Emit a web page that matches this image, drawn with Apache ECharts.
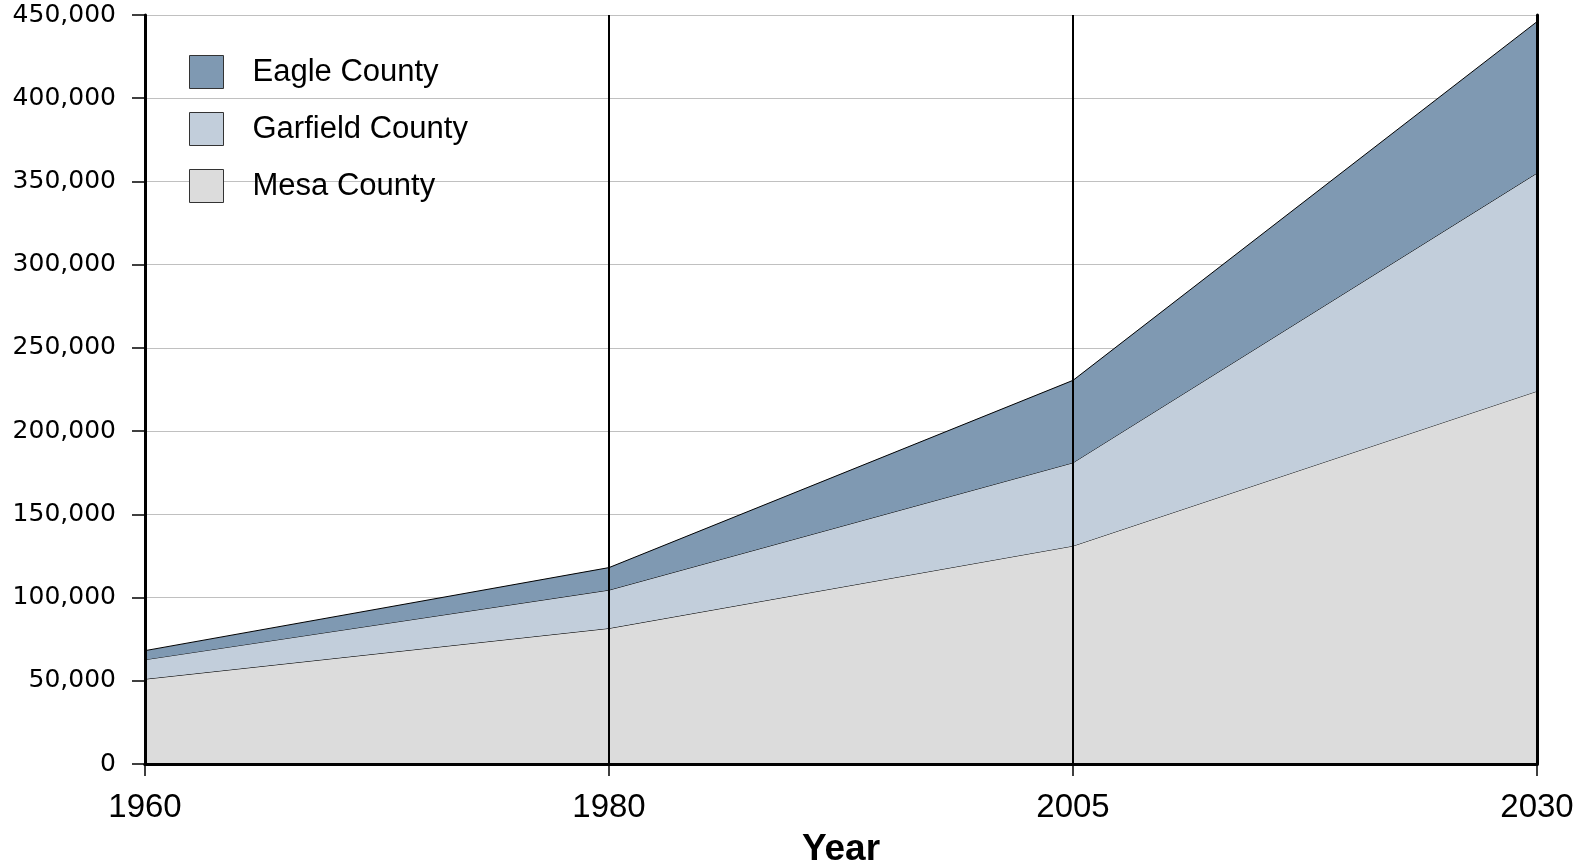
<!DOCTYPE html>
<html>
<head>
<meta charset="utf-8">
<script src="https://cdn.jsdelivr.net/npm/echarts@6/dist/echarts.min.js"></script>
<style>
html,body{margin:0;padding:0;background:#fff;}
#chart{width:1591px;height:864px;}
</style>
</head>
<body>
<div id="chart"></div>
<script>
const years = ['1960', '1980', '2005', '2030'];
const mesa = [51000, 81500, 131000, 224000];
const garfield = [11700, 23000, 50000, 131000];
const eagle = [5400, 13500, 49500, 91000];
const yTicks = [0, 50000, 100000, 150000, 200000, 250000, 300000, 350000, 400000, 450000];
const markYears = ['1980', '2005'];

const FONT = '"Liberation Sans", Arial, sans-serif';
const chart = echarts.init(document.getElementById('chart'), null, {renderer: 'canvas'});

function areaSeries(name, data, fill, z) {
  return {
    name: name,
    type: 'line',
    stack: 'total',
    data: data,
    symbol: 'none',
    z: z,
    xAxisIndex: 0, yAxisIndex: 0,
    lineStyle: {color: '#000', width: 1},
    itemStyle: {color: fill, borderColor: '#333', borderWidth: 1},
    areaStyle: {color: fill, opacity: 1}
  };
}

const mesaS = areaSeries('Mesa County', mesa, '#dcdcdc', 2);
const garS = areaSeries('Garfield County', garfield, '#c2cedb', 3);
const eagleS = areaSeries('Eagle County', eagle, '#7f99b2', 4);
eagleS.markLine = {
  silent: true,
  symbol: ['none', 'none'],
  label: {show: false},
  lineStyle: {color: '#000', width: 2, type: 'solid'},
  data: markYears.map(y => ({xAxis: y}))
};

const yBase = {type: 'value', min: 0, max: 450000, interval: 50000};

chart.setOption({
  animation: false,
  backgroundColor: '#fff',
  grid: {left: 145, right: 54, top: 15, bottom: 100, outerBoundsMode: 'none', containLabel: false},
  legend: {
    data: ['Eagle County', 'Garfield County', 'Mesa County'],
    orient: 'vertical',
    left: 184, top: 50,
    icon: 'rect',
    itemWidth: 34, itemHeight: 33, itemGap: 23,
    textStyle: {fontFamily: FONT, fontSize: 31, color: '#000', padding: [0, 0, 0, 24]},
    itemStyle: {borderColor: '#333', borderWidth: 1}
  },
  xAxis: [{
    type: 'category',
    data: years,
    boundaryGap: false,
    z: 10,
    name: 'Year',
    nameLocation: 'middle',
    nameGap: 67,
    nameTextStyle: {fontFamily: FONT, fontSize: 37, fontWeight: 'bold', color: '#000'},
    axisLine: {show: true, lineStyle: {color: '#000', width: 3}},
    axisTick: {show: true, length: 12, lineStyle: {color: '#000', width: 1.5}},
    axisLabel: {fontFamily: FONT, fontSize: 33, color: '#000', margin: 27},
    splitLine: {show: false}
  }, {
    type: 'category',
    data: years,
    boundaryGap: false,
    position: 'top',
    z: 10,
    axisLine: {show: true, lineStyle: {color: '#000', width: 3}},
    axisTick: {show: false},
    axisLabel: {show: false},
    splitLine: {show: false}
  }],
  yAxis: [Object.assign({}, yBase, {
    axisLine: {show: false},
    axisTick: {show: false},
    axisLabel: {show: false},
    splitLine: {show: true, lineStyle: {color: '#c0c0c0', width: 1}}
  }), Object.assign({}, yBase, {
    position: 'left',
    z: 10,
    axisLine: {show: true, lineStyle: {color: '#000', width: 3}},
    axisTick: {show: true, length: 13, lineStyle: {color: '#000', width: 1.5}},
    axisLabel: {
      fontFamily: '"DejaVu Sans", sans-serif', fontSize: 25, color: '#000', margin: 29,
      formatter: v => yTicks.includes(v) ? v.toLocaleString('en-US') : ''
    },
    splitLine: {show: false}
  }), Object.assign({}, yBase, {
    position: 'right',
    z: 10,
    axisLine: {show: true, lineStyle: {color: '#000', width: 3}},
    axisTick: {show: false},
    axisLabel: {show: false},
    splitLine: {show: false}
  })],
  series: [mesaS, garS, eagleS]
});
</script>
</body>
</html>
